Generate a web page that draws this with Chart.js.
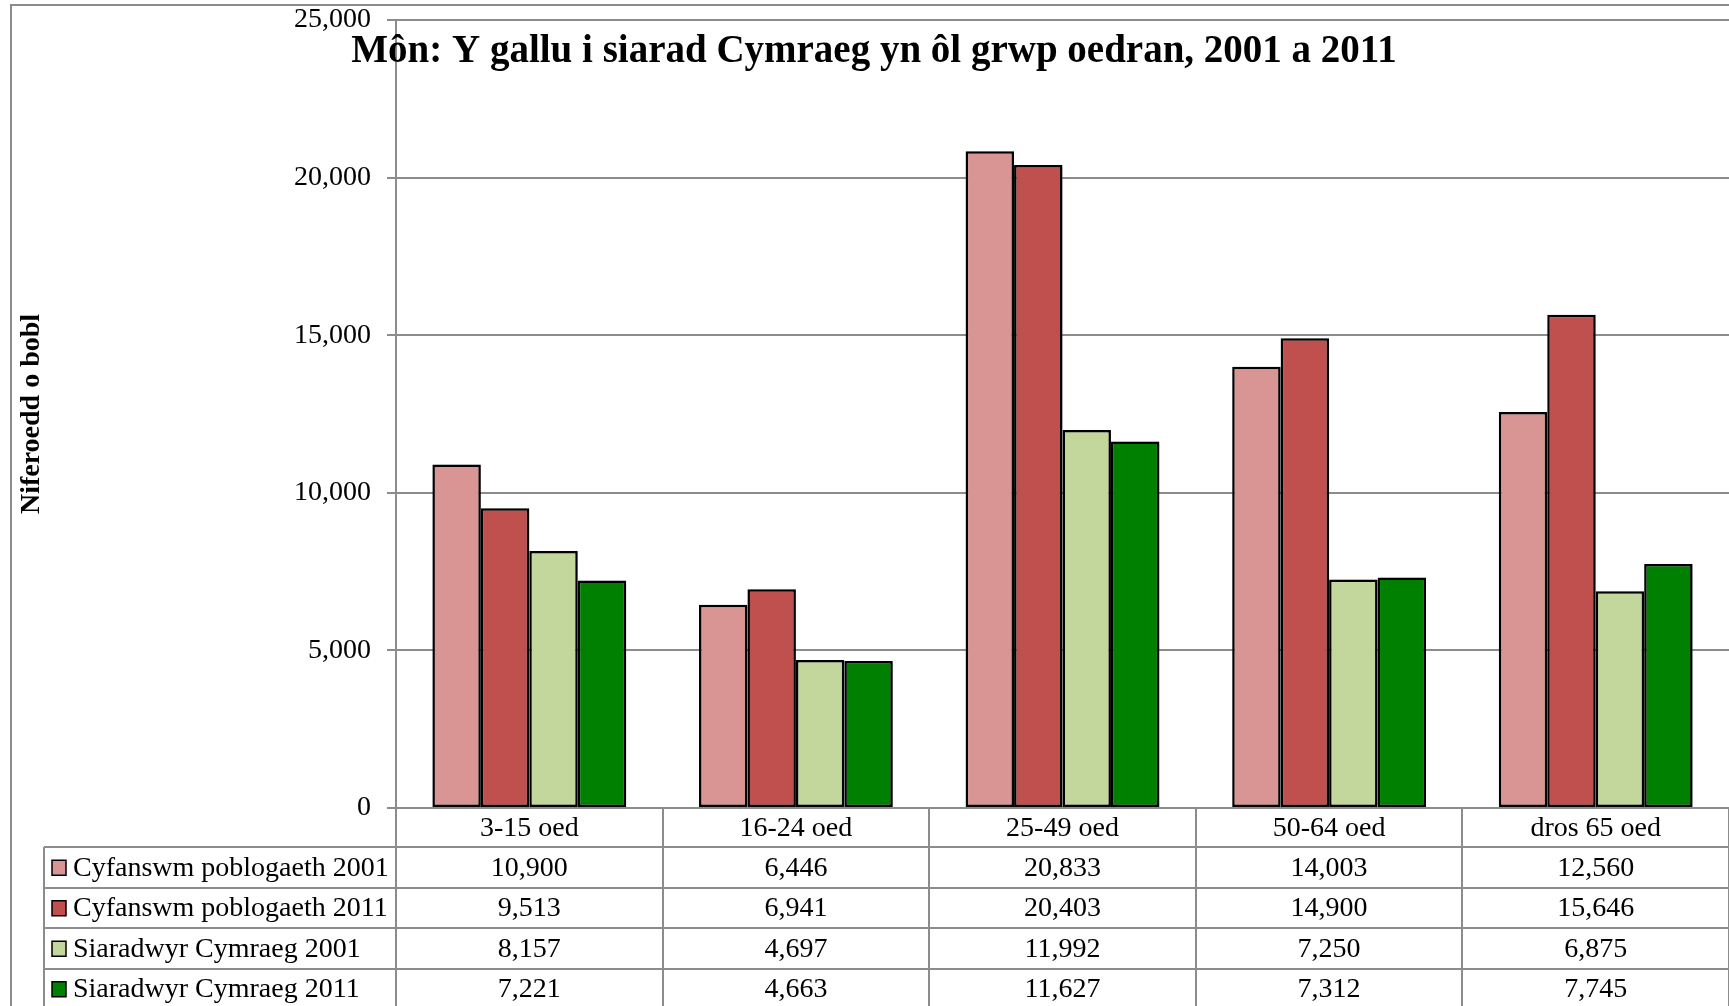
<!DOCTYPE html>
<html>
<head>
<meta charset="utf-8">
<script src="https://cdn.jsdelivr.net/npm/chart.js@4.4.1/dist/chart.umd.min.js"></script>
<style>
html,body{margin:0;padding:0;background:#fff;overflow:hidden}
canvas{display:block}
</style>
</head>
<body>
<canvas id="c" width="1729" height="1006"></canvas>
<script>
// ---- data ----
const categories = ['3-15 oed', '16-24 oed', '25-49 oed', '50-64 oed', 'dros 65 oed'];
const seriesNames = ['Cyfanswm poblogaeth 2001', 'Cyfanswm poblogaeth 2011', 'Siaradwyr Cymraeg 2001', 'Siaradwyr Cymraeg 2011'];
const pop2001 = [10900, 6446, 20833, 14003, 12560];
const pop2011 = [9513, 6941, 20403, 14900, 15646];
const welsh2001 = [8157, 4697, 11992, 7250, 6875];
const welsh2011 = [7221, 4663, 11627, 7312, 7745];
const seriesColors = ['#D99594', '#C0504D', '#C3D69B', '#008000'];
const yMin = 0, yMax = 25000, yStep = 5000;
const chartTitle = 'Môn: Y gallu i siarad Cymraeg yn ôl grwp oedran, 2001 a 2011';
const yAxisTitle = 'Niferoedd o bobl';

// ---- styles ----
const FONT = "'Liberation Serif', 'Times New Roman', serif";
const GRID = '#8c8c8c';
const fmt = v => Number(v).toLocaleString('en-US');
const seriesValues = [pop2001, pop2011, welsh2001, welsh2011];

const decor = {
  id: 'decor',
  beforeDraw(chart) {
    const ctx = chart.ctx;
    ctx.save();
    ctx.strokeStyle = GRID;
    ctx.lineWidth = 2;
    ctx.beginPath();
    ctx.moveTo(11, chart.height);
    ctx.lineTo(11, 5);
    ctx.lineTo(chart.width, 5);
    ctx.stroke();
    ctx.restore();
  },
  beforeDatasetsDraw(chart) {
    const ctx = chart.ctx;
    ctx.save();
    ctx.shadowColor = 'rgba(0,0,0,0.28)';
    ctx.shadowBlur = 4;
    ctx.shadowOffsetX = 2;
    ctx.shadowOffsetY = 1;
  },
  afterDatasetsDraw(chart) {
    chart.ctx.restore();
  },
  afterDraw(chart) {
    const ctx = chart.ctx;
    const xs = chart.scales.x;
    const area = chart.chartArea;
    const W = chart.width, H = chart.height;
    ctx.save();
    // title
    ctx.fillStyle = '#000';
    ctx.font = 'bold 39px ' + FONT;
    ctx.textAlign = 'center';
    ctx.textBaseline = 'alphabetic';
    ctx.fillText(chartTitle, 874, 61.5);

    // data table
    const catTop = area.bottom;
    const catH = 39;
    const rowH = 40.5;
    const tableLeft = 44;
    const half = (xs.getPixelForValue(1) - xs.getPixelForValue(0)) / 2;
    ctx.strokeStyle = GRID;
    ctx.lineWidth = 2;
    ctx.beginPath();
    for (let i = 0; i < 4; i++) {
      const y = Math.round(catTop + catH + i * rowH);
      ctx.moveTo(tableLeft, y);
      ctx.lineTo(W, y);
    }
    ctx.moveTo(tableLeft, catTop + catH);
    ctx.lineTo(tableLeft, H);
    ctx.moveTo(area.left, catTop);
    ctx.lineTo(area.left, H);
    for (let i = 0; i < categories.length; i++) {
      const xb = Math.round(xs.getPixelForValue(i) + half);
      ctx.moveTo(xb, catTop);
      ctx.lineTo(xb, H);
    }
    ctx.stroke();

    ctx.fillStyle = '#000';
    ctx.font = '28px ' + FONT;
    ctx.textAlign = 'center';
    ctx.textBaseline = 'middle';
    categories.forEach((c, i) => {
      ctx.fillText(c, xs.getPixelForValue(i), catTop + catH / 2 + 1);
    });
    seriesNames.forEach((name, r) => {
      const yc = catTop + catH + r * rowH + rowH / 2 + 1;
      ctx.fillStyle = seriesColors[r];
      ctx.fillRect(52, yc - 8, 14, 15);
      ctx.strokeStyle = '#000';
      ctx.lineWidth = 1.5;
      ctx.strokeRect(52, yc - 8, 14, 15);
      ctx.fillStyle = '#000';
      ctx.textAlign = 'left';
      ctx.fillText(name, 73, yc);
      ctx.textAlign = 'center';
      seriesValues[r].forEach((v, i) => {
        ctx.fillText(fmt(v), xs.getPixelForValue(i), yc);
      });
    });
    ctx.restore();
  }
};

new Chart(document.getElementById('c'), {
  type: 'bar',
  data: {
    labels: categories,
    datasets: seriesNames.map((n, i) => ({
      label: n,
      data: seriesValues[i],
      backgroundColor: seriesColors[i],
      borderColor: '#000',
      borderWidth: 2.5,
      borderSkipped: false,
      categoryPercentage: 0.727,
      barPercentage: 1.0
    }))
  },
  options: {
    responsive: false,
    devicePixelRatio: 1,
    animation: false,
    layout: { padding: { top: 20, bottom: 198, left: 0, right: 0 } },
    plugins: {
      legend: { display: false },
      title: { display: false },
      tooltip: { enabled: false }
    },
    scales: {
      x: {
        display: false
      },
      y: {
        min: yMin,
        max: yMax,
        ticks: {
          stepSize: yStep,
          padding: 16,
          color: '#000',
          font: { family: FONT, size: 28 },
          callback: v => fmt(v)
        },
        grid: {
          color: GRID,
          lineWidth: 2,
          tickLength: 9,
          drawTicks: true
        },
        border: { display: true, color: GRID, width: 2 },
        title: {
          display: true,
          text: yAxisTitle,
          color: '#000',
          font: { family: FONT, size: 28, weight: 'bold' },
          padding: { top: 15, bottom: 0 }
        },
        afterFit: s => { s.width = 396; s.paddingTop = 0; s.paddingBottom = 0; }
      }
    }
  },
  plugins: [decor]
});
</script>
</body>
</html>
